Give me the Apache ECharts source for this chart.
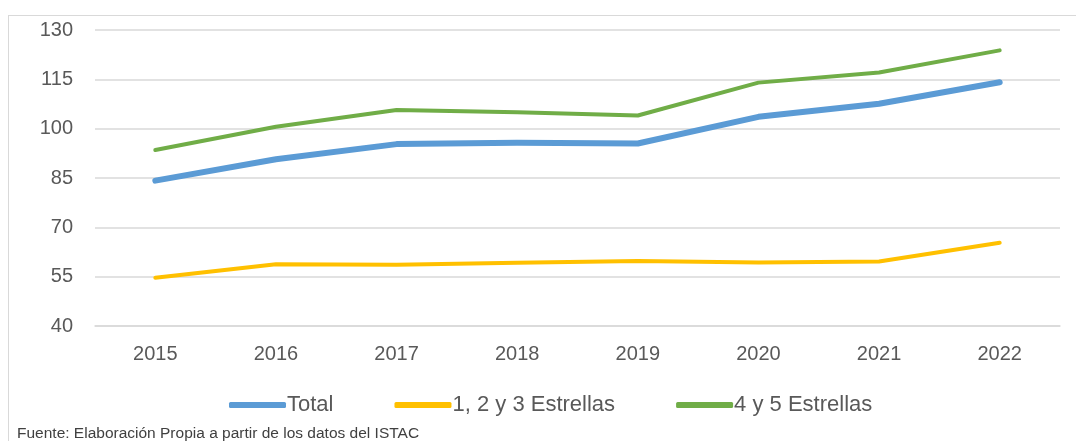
<!DOCTYPE html>
<html>
<head>
<meta charset="utf-8">
<script src="https://cdn.jsdelivr.net/npm/echarts@6/dist/echarts.min.js"></script>
<style>
  html, body { margin: 0; padding: 0; background: #fff; }
  #wrap { position: relative; width: 1076px; height: 441px; overflow: hidden; }
  #frame { position: absolute; left: 8px; top: 15px; right: -2px; bottom: -2px;
           border-left: 1.5px solid #d9d9d9; border-top: 1.5px solid #d9d9d9; }
  #chart { position: absolute; left: 0; top: 0; width: 1076px; height: 441px; }
</style>
</head>
<body>
<div id="wrap">
  <div id="frame"></div>
  <div id="chart"></div>
</div>
<script>
    'use strict'

    var years = ['2015', '2016', '2017', '2018', '2019', '2020', '2021', '2022'];
    var total = [84.2, 90.7, 95.3, 95.7, 95.5, 103.6, 107.6, 114.1];
    var estrellas123 = [54.7, 58.8, 58.6, 59.2, 59.8, 59.3, 59.6, 65.3];
    var estrellas45 = [93.5, 100.6, 105.7, 105.0, 104.0, 114.0, 117.1, 123.8];

    var font = '"Liberation Sans", Arial, sans-serif';

    var lineChart = echarts.init(document.getElementById('chart'));

    lineChart.setOption({
        animation: false,
        title: {
            text: 'Fuente: Elaboración Propia a partir de los datos del ISTAC',
            left: 17,
            top: 426,
            padding: 0,
            textStyle: {
                fontFamily: font,
                fontSize: 15.5,
                fontWeight: 'normal',
                color: '#404040'
            }
        },
        legend: {
            left: 229,
            top: 394,
            padding: 0,
            itemWidth: 57,
            itemHeight: 6,
            itemGap: 61,
            icon: 'roundRect',
            textStyle: {
                fontFamily: font,
                fontSize: 22,
                color: '#595959',
                padding: [0, 0, 0, -4]
            },
            data: ['Total', '1, 2 y 3 Estrellas', '4 y 5 Estrellas']
        },
        grid: {
            left: 95,
            right: 16,
            top: 30,
            bottom: 115
        },
        xAxis: {
            type: 'category',
            data: years,
            boundaryGap: true,
            axisLine: { lineStyle: { color: '#d9d9d9', width: 1.5 } },
            axisTick: { show: false },
            axisLabel: {
                margin: 18,
                fontFamily: font,
                fontSize: 20,
                color: '#595959'
            }
        },
        yAxis: {
            type: 'value',
            min: 40,
            max: 130,
            interval: 15,
            axisLine: { show: false },
            axisTick: { show: false },
            splitLine: { lineStyle: { color: '#d9d9d9', width: 1.5 } },
            axisLabel: {
                margin: 22,
                fontFamily: font,
                fontSize: 20,
                color: '#595959'
            }
        },
        series: [{
            name: 'Total',
            type: 'line',
            data: total,
            showSymbol: false,
            symbol: 'none',
            color: '#5B9BD5',
            lineStyle: { width: 6, cap: 'round', join: 'round' }
        }, {
            name: '1, 2 y 3 Estrellas',
            type: 'line',
            data: estrellas123,
            showSymbol: false,
            symbol: 'none',
            color: '#FFC000',
            lineStyle: { width: 4, cap: 'round', join: 'round' }
        }, {
            name: '4 y 5 Estrellas',
            type: 'line',
            data: estrellas45,
            showSymbol: false,
            symbol: 'none',
            color: '#70AD47',
            lineStyle: { width: 4, cap: 'round', join: 'round' }
        }]
    });
</script>
</body>
</html>
